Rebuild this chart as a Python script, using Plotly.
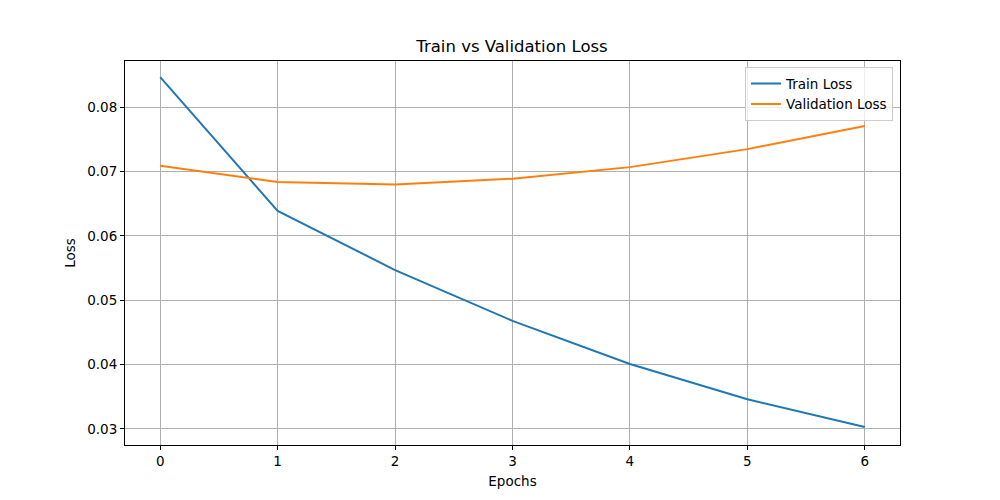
import plotly.graph_objects as go

epochs = [0, 1, 2, 3, 4, 5, 6]
train_loss = [0.0847, 0.0639, 0.0547, 0.0468, 0.0401, 0.0346, 0.0303]
val_loss = [0.0709, 0.0684, 0.0680, 0.0689, 0.0707, 0.0735, 0.0771]
y_ticks = [0.03, 0.04, 0.05, 0.06, 0.07, 0.08]

fig = go.Figure()
fig.add_trace(go.Scatter(x=epochs, y=train_loss, mode="lines", name="Train Loss",
                         line=dict(color="#1f77b4", width=2)))
fig.add_trace(go.Scatter(x=epochs, y=val_loss, mode="lines", name="Validation Loss",
                         line=dict(color="#ff7f0e", width=2)))

font = "DejaVu Sans"
W, H = 992, 492
fig.update_layout(
    width=W, height=H,
    margin=dict(l=117, r=100, t=53, b=55),
    paper_bgcolor="white", plot_bgcolor="white",
    font=dict(family=font, size=13.5, color="black"),
    title=dict(text="Train vs Validation Loss", x=504 / W, xanchor="center",
               y=1 - 38 / H, yanchor="middle", font=dict(size=16.5, family=font)),
    legend=dict(x=0.991, y=0.984, xanchor="right", yanchor="top",
                bgcolor="rgba(255,255,255,0.8)", bordercolor="#cccccc", borderwidth=1,
                font=dict(size=13.5, family=font), tracegroupgap=0),
    showlegend=True,
)
fig.update_xaxes(range=[-0.3, 6.3], tickvals=epochs, ticks="outside", ticklen=4,
                 tickcolor="black", showgrid=True, gridcolor="#b0b0b0", gridwidth=1,
                 showline=True, linecolor="black", linewidth=1, mirror=True,
                 zeroline=False, title=dict(text="Epochs", standoff=8, font=dict(size=13.5)),
                 tickfont=dict(size=13.5))
fig.update_yaxes(range=[0.0275, 0.0872], tickvals=y_ticks,
                 ticktext=[f"{v:.2f}" for v in y_ticks], ticks="outside", ticklen=4,
                 tickcolor="black", showgrid=True, gridcolor="#b0b0b0", gridwidth=1,
                 showline=True, linecolor="black", linewidth=1, mirror=True,
                 zeroline=False, title=dict(text="Loss", standoff=8, font=dict(size=13.5)),
                 tickfont=dict(size=13.5))

fig.write_html("out.html")
